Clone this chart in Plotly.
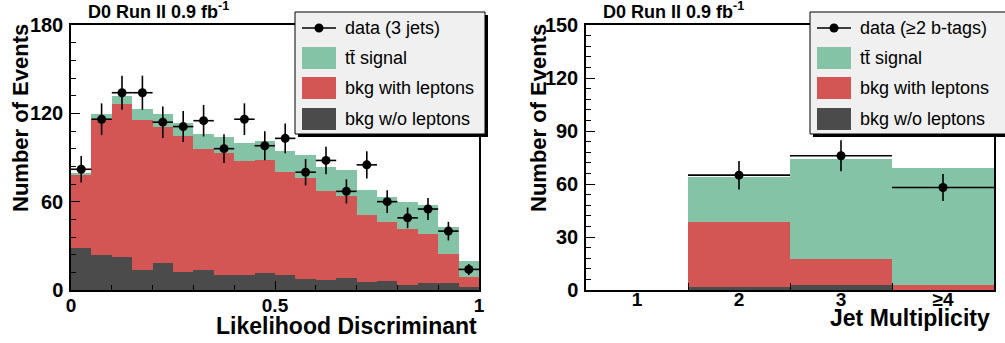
import numpy as np
import plotly.graph_objects as go

W, H = 1005, 343

# ---------------- data ----------------
lh_centers = [0.025 + 0.05 * i for i in range(20)]
lh_signal_top = [79.2, 119.8, 131.8, 122.7, 119.3, 113.7, 106.0, 104.2, 99.6, 101.4,
                 94.4, 91.7, 83.8, 81.5, 67.9, 63.4, 60.0, 57.7, 43.0, 19.7]
lh_lep_top = [78.1, 115.9, 126.1, 115.5, 110.9, 104.6, 95.8, 92.8, 87.8, 88.3,
              80.4, 76.3, 67.2, 64.1, 50.9, 46.4, 41.2, 37.8, 24.5, 9.1]
lh_nolep_top = [28.3, 23.8, 22.2, 13.6, 18.3, 12.5, 13.6, 10.0, 10.0, 11.3,
                10.2, 7.5, 6.8, 8.4, 5.7, 6.1, 3.4, 4.5, 4.5, 2.3]
lh_data = [82, 116, 134, 134, 114, 111, 115, 96, 116, 98,
           103, 80, 88, 67, 85, 60, 49, 55, 40, 14]

jet_pos = [1, 2, 3, 4]
jet_labels = ["1", "2", "3", "≥4"]
jet_signal_top = [0, 63.8, 74.2, 68.9]
jet_lep_top = [0, 38.7, 17.4, 2.6]
jet_nolep_top = [0, 1.5, 2.9, 0.0]
jet_data = [None, 65, 76, 58]

# ---------------- style ----------------
GREEN = "#84c3a6"
RED = "#d45654"
DARK = "#4b4b4b"
FONT = "Liberation Sans"

def px_x(p):
    return p / W

def px_y(p):
    return 1 - p / H

LX = [71, 479]
RX = [586, 994]
YT, YB = 25, 290

fig = go.Figure()

def add_panel(xref, yref, centers, width, sig, lep, nolep, data, xerr):
    for vals, col in [(sig, GREEN), (lep, RED), (nolep, DARK)]:
        fig.add_trace(go.Bar(x=centers, y=vals, width=width, marker=dict(color=col, line=dict(width=0)),
                             xaxis=xref, yaxis=yref, showlegend=False, hoverinfo="skip"))
    err = [np.sqrt(v) if v is not None else None for v in data]
    fig.add_trace(go.Scatter(x=centers, y=data, mode="markers", xaxis=xref, yaxis=yref,
                             marker=dict(color="black", size=9),
                             error_y=dict(type="data", array=err, color="black", thickness=1.6, width=0),
                             error_x=dict(type="constant", value=xerr, color="black", thickness=1.6, width=0),
                             showlegend=False, hoverinfo="skip"))

add_panel("x", "y", lh_centers, 0.05, lh_signal_top, lh_lep_top, lh_nolep_top, lh_data, 0.025)
add_panel("x2", "y2", jet_pos, 1.0, jet_signal_top, jet_lep_top, jet_nolep_top, jet_data, 0.5)

ydom = [px_y(YB), px_y(YT)]
axis_common = dict(showline=True, linecolor="black", linewidth=1.5, mirror=True,
                   showgrid=False, zeroline=False, automargin=False,
                   ticks="inside", tickcolor="black", tickwidth=1.2)
tickfont_y = dict(family=FONT, size=20, color="black", weight="bold")
tickfont_x = dict(family=FONT, size=19, color="black", weight="bold")

fig.update_layout(
    width=W, height=H, margin=dict(l=0, r=0, t=0, b=0),
    paper_bgcolor="white", plot_bgcolor="white",
    barmode="overlay", bargap=0, showlegend=False,
    xaxis=dict(domain=[px_x(LX[0]), px_x(LX[1])], range=[0, 1], anchor="y",
               tickvals=[0, 0.5, 1], ticktext=["0", "0.5", "1"], ticklen=9,
               minor=dict(dtick=0.1, tick0=0, ticks="inside", ticklen=5, tickcolor="black", tickwidth=1.2),
               tickfont=tickfont_x, ticklabelstandoff=-3, **axis_common),
    yaxis=dict(domain=ydom, range=[0, 180], anchor="x", tickvals=[0, 60, 120, 180], ticklen=9,
               minor=dict(dtick=12, tick0=0, ticks="inside", ticklen=5, tickcolor="black", tickwidth=1.2),
               tickfont=tickfont_y, ticklabelstandoff=2, **axis_common),
    xaxis2=dict(domain=[px_x(RX[0]), px_x(RX[1])], range=[0.5, 4.5], anchor="y2",
                tickvals=jet_pos, ticktext=jet_labels, ticklen=0,
                minor=dict(tickvals=[1.5, 2.5, 3.5], ticks="inside", ticklen=7, tickcolor="black", tickwidth=1.2),
                tickfont=tickfont_x, ticklabelstandoff=-9, **axis_common),
    yaxis2=dict(domain=ydom, range=[0, 150], anchor="x2", tickvals=[0, 30, 60, 90, 120, 150], ticklen=9,
                minor=dict(dtick=6, tick0=0, ticks="inside", ticklen=5, tickcolor="black", tickwidth=1.2),
                tickfont=tickfont_y, ticklabelstandoff=2, **axis_common),
)

shapes = []
annotations = []

def text(x, y, s, size, bold=False, xanchor="left", yanchor="middle", angle=0):
    annotations.append(dict(x=px_x(x), y=px_y(y), xref="paper", yref="paper", text=s,
                            showarrow=False, xanchor=xanchor, yanchor=yanchor, textangle=angle,
                            font=dict(family=FONT, size=size, color="black",
                                      weight="bold" if bold else "normal")))

# titles
text(86, 11, "D0 Run II 0.9 fb<sup>-1</sup>", 18, bold=True)
text(601, 11, "D0 Run II 0.9 fb<sup>-1</sup>", 18, bold=True)
# axis titles
text(479, 326, "Likelihood Discriminant", 23, bold=True, xanchor="right")
text(992, 318, "Jet Multiplicity", 23, bold=True, xanchor="right")
text(21, 22, "Number of Events", 22, bold=True, xanchor="center", yanchor="top", angle=-90)
text(539, 22, "Number of Events", 22, bold=True, xanchor="center", yanchor="top", angle=-90)

def legend(x0, x1, y0, y1, first_label):
    # shadow
    shapes.append(dict(type="rect", xref="paper", yref="paper", layer="above",
                       x0=px_x(x0 + 3), x1=px_x(x1 + 3), y0=px_y(y1 + 3), y1=px_y(y0 + 3),
                       fillcolor="black", line=dict(width=0)))
    shapes.append(dict(type="rect", xref="paper", yref="paper", layer="above",
                       x0=px_x(x0), x1=px_x(x1), y0=px_y(y1), y1=px_y(y0),
                       fillcolor="#f0f0f0", line=dict(color="black", width=1)))
    sx0, sx1 = x0 + 7, x0 + 41
    tx = x0 + 48
    # data entry
    yc = y0 + 16
    shapes.append(dict(type="line", xref="paper", yref="paper", layer="above",
                       x0=px_x(sx0), x1=px_x(sx1), y0=px_y(yc), y1=px_y(yc),
                       line=dict(color="black", width=1.5)))
    mx = (sx0 + sx1) / 2
    shapes.append(dict(type="circle", xref="paper", yref="paper", layer="above",
                       x0=px_x(mx - 4.5), x1=px_x(mx + 4.5), y0=px_y(yc + 4.5), y1=px_y(yc - 4.5),
                       fillcolor="black", line=dict(width=0)))
    text(tx, yc, first_label, 18)
    for yc, col, lab in [(y0 + 46, GREEN, "tt\u0304 signal"), (y0 + 76, RED, "bkg with leptons"),
                         (y0 + 107, DARK, "bkg w/o leptons")]:
        shapes.append(dict(type="rect", xref="paper", yref="paper", layer="above",
                           x0=px_x(sx0), x1=px_x(sx1), y0=px_y(yc + 11), y1=px_y(yc - 11),
                           fillcolor=col, line=dict(width=0)))
        text(tx, yc, lab, 18)

legend(295, 485, 12, 134, "data (3 jets)")
legend(810, 1010, 12, 134, "data (≥2 b-tags)")

fig.update_layout(shapes=shapes, annotations=annotations)
fig.write_html("out.html")
